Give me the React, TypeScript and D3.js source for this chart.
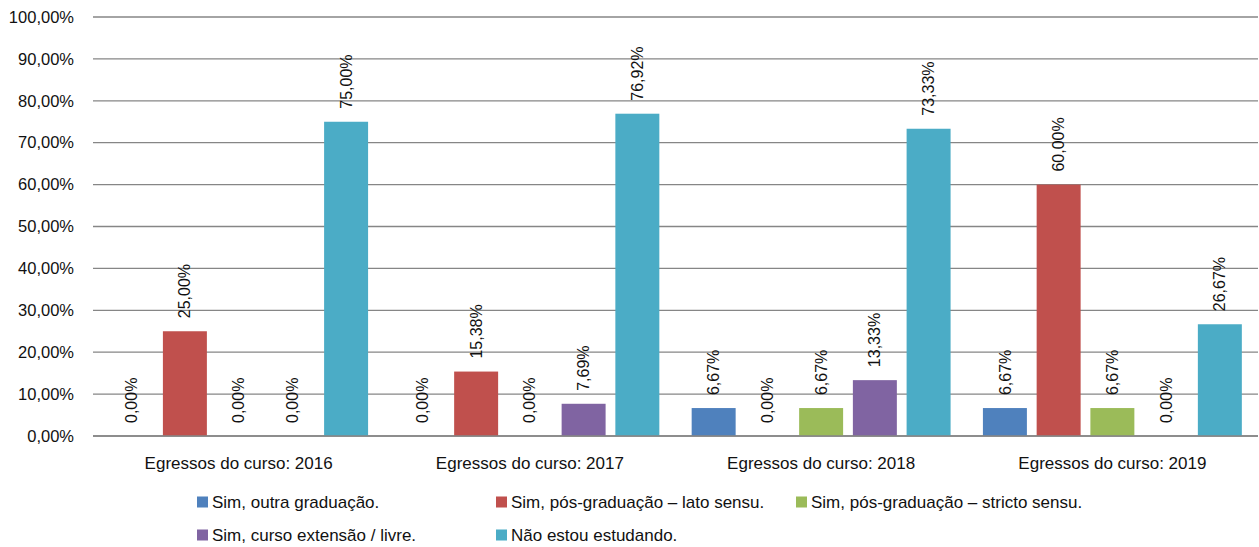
import React from "react";
import * as d3 from "d3";

const categories = ["Egressos do curso: 2016", "Egressos do curso: 2017", "Egressos do curso: 2018", "Egressos do curso: 2019"];
const seriesNames = [
  "Sim, outra graduação.",
  "Sim, pós-graduação – lato sensu.",
  "Sim, pós-graduação – stricto sensu.",
  "Sim, curso extensão / livre.",
  "Não estou estudando.",
];
const seriesColors = ["#4F81BD", "#C0504D", "#9BBB59", "#8064A2", "#4BACC6"];
const outraGraduacao = [0, 0, 6.67, 6.67];
const latoSensu = [25, 15.38, 0, 60];
const strictoSensu = [0, 0, 6.67, 6.67];
const extensao = [0, 7.69, 13.33, 0];
const naoEstudando = [75, 76.92, 73.33, 26.67];
const seriesValues = [outraGraduacao, latoSensu, strictoSensu, extensao, naoEstudando];
const yTicks = [0, 10, 20, 30, 40, 50, 60, 70, 80, 90, 100];

const W = 1259, H = 547;
const left = 93, right = 1258, top = 17, bottom = 436;
const font = "'Liberation Sans', Arial, sans-serif";
const fmt = (v: number) => v.toFixed(2).replace(".", ",") + "%";

export default function App() {
  const x = d3.scaleBand<string>().domain(categories).range([left, right]).padding(0);
  const y = d3.scaleLinear().domain([0, 100]).range([bottom, top]);
  const gw = x.bandwidth();
  const barW = gw * 0.151;
  const step = gw * 0.1845;

  const legendPos = [
    [197, 502], [496, 502], [796, 502], [197, 535], [496, 535],
  ];

  return (
    <svg width={W} height={H} style={{ position: "absolute", left: 0, top: 0 }} fontFamily={font}>
      <rect width={W} height={H} fill="#fff" />
      {yTicks.map((t) => (
        <g key={t}>
          <line x1={left} x2={right} y1={y(t)} y2={y(t)} stroke="#868686" strokeWidth={1.3} />
          <text x={74} y={y(t)} dy="0.35em" textAnchor="end" fontSize={16.5} fill="#111">{fmt(t)}</text>
        </g>
      ))}
      {categories.map((c, ci) => {
        const cx = (x(c) as number) + gw / 2;
        return (
          <g key={c}>
            {seriesValues.map((vals, si) => {
              const v = vals[ci];
              const bx = cx + (si - 2) * step;
              return (
                <g key={si}>
                  {v > 0 && (
                    <rect x={bx - barW / 2} y={y(v)} width={barW} height={bottom - y(v)} fill={seriesColors[si]} />
                  )}
                  <text
                    transform={`translate(${bx},${y(v) - 13}) rotate(-90)`}
                    dy="0.35em"
                    fontSize={16}
                    fill="#111"
                  >
                    {fmt(v)}
                  </text>
                </g>
              );
            })}
            <text x={cx} y={463} dy="0.35em" textAnchor="middle" fontSize={17} fill="#111">{c}</text>
          </g>
        );
      })}
      <line x1={left} x2={right} y1={bottom} y2={bottom} stroke="#868686" strokeWidth={1.3} />
      {seriesNames.map((n, i) => (
        <g key={n}>
          <rect x={legendPos[i][0]} y={legendPos[i][1] - 5.5} width={11} height={11} fill={seriesColors[i]} />
          <text x={legendPos[i][0] + 15} y={legendPos[i][1]} dy="0.35em" fontSize={17} fill="#111">{n}</text>
        </g>
      ))}
    </svg>
  );
}
